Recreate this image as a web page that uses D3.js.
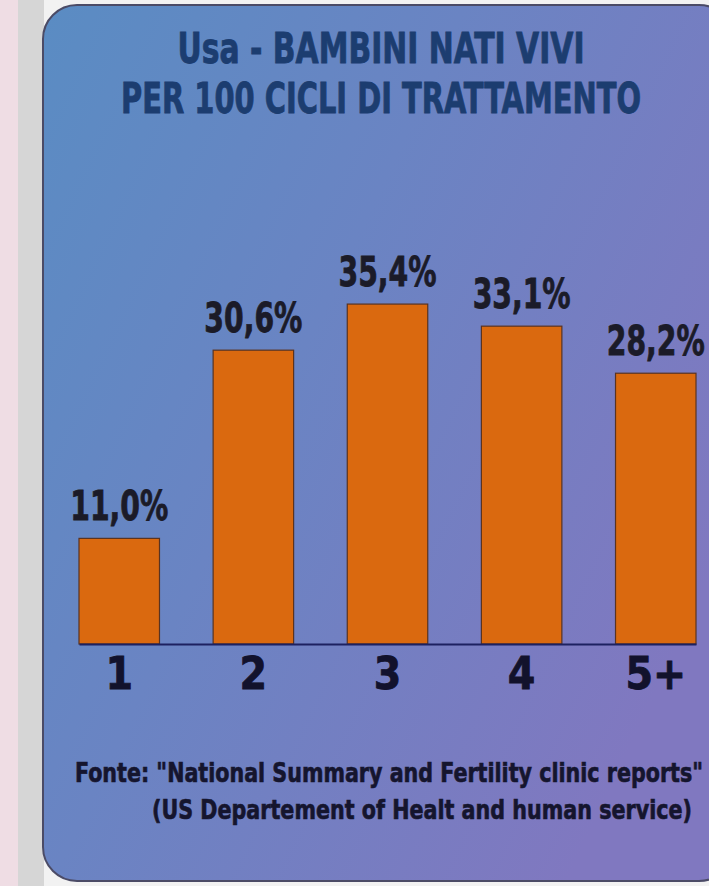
<!DOCTYPE html>
<html>
<head>
<meta charset="utf-8">
<script src="https://cdn.jsdelivr.net/npm/d3@7"></script>
<style>
  html, body { margin: 0; padding: 0; background: #f4f4f4; }
  svg { display: block; }
  .narrow { font-family: "DejaVu Sans Condensed", "Liberation Sans Narrow", sans-serif; font-weight: bold; }
</style>
</head>
<body>
<svg id="chart"></svg>
<script>
// data
const categories = ['1', '2', '3', '4', '5+']
const values = [11.0, 30.6, 35.4, 33.1, 28.2]
const valueLabels = ['11,0%', '30,6%', '35,4%', '33,1%', '28,2%']
const titleLines = ['Usa - BAMBINI NATI VIVI', 'PER 100 CICLI DI TRATTAMENTO']
const sourceLines = [
  'Fonte:  "National Summary and Fertility clinic reports"',
  '(US Departement of Healt and human service)'
]

const width = 709, height = 886
const baseY = 644

const svg = d3.select('#chart')
  .attr('width', width)
  .attr('height', height)

// page around the card: pink strip, grey strip
svg.append('rect').attr('width', width).attr('height', height).attr('fill', '#f2f2f2')
svg.append('rect').attr('width', 18).attr('height', height).attr('fill', '#efdde4')
svg.append('rect').attr('x', 18).attr('width', 26).attr('height', height).attr('fill', '#d6d6d6')

const defs = svg.append('defs')
const grad = defs.append('linearGradient')
  .attr('id', 'panelGrad')
  .attr('x1', '0%').attr('y1', '0%')
  .attr('x2', '100%').attr('y2', '60%')
grad.append('stop').attr('offset', '0%').attr('stop-color', '#5a8cc3')
grad.append('stop').attr('offset', '45%').attr('stop-color', '#6a84c3')
grad.append('stop').attr('offset', '100%').attr('stop-color', '#8078c0')

// card
svg.append('rect')
  .attr('x', 43).attr('y', 5)
  .attr('width', 690).attr('height', 876)
  .attr('rx', 34)
  .attr('fill', 'url(#panelGrad)')
  .attr('stroke', '#4b4b66')
  .attr('stroke-width', 2)

const g = svg.append('g')

// scales
const x = d3.scaleBand()
  .domain(categories)
  .range([79, 696])
  .paddingInner(0.4)
  .paddingOuter(0)

const y = d3.scaleLinear()
  .domain([0, 37.7])
  .range([baseY, baseY - 362])

// bars
g.selectAll('.bar')
  .data(values)
  .enter().append('rect')
  .attr('class', 'bar')
  .attr('x', (d, i) => x(categories[i]))
  .attr('y', d => y(d))
  .attr('width', x.bandwidth())
  .attr('height', d => y(0) - y(d))
  .attr('fill', '#da690f')
  .attr('stroke', '#5a3320')
  .attr('stroke-width', 1.2)

// value labels above bars
g.selectAll('.val')
  .data(values)
  .enter().append('text')
  .attr('class', 'val narrow')
  .attr('x', (d, i) => x(categories[i]) + x.bandwidth() / 2)
  .attr('y', d => y(d) - 18)
  .attr('text-anchor', 'middle')
  .attr('font-size', 41)
  .attr('fill', '#1b1b28')
  .attr('stroke', '#1b1b28')
  .attr('stroke-width', 0.8)
  .attr('textLength', 98)
  .attr('lengthAdjust', 'spacingAndGlyphs')
  .text((d, i) => valueLabels[i])

// x axis
const axis = g.append('g')
  .attr('transform', `translate(0,${baseY})`)
  .call(d3.axisBottom(x).tickSize(0).tickSizeOuter(0).tickPadding(14))
axis.select('.domain')
  .attr('stroke', '#1d2160')
  .attr('stroke-width', 2)
axis.selectAll('text')
  .attr('class', 'narrow')
  .attr('font-size', 44)
  .attr('fill', '#12122c')
  .attr('stroke', '#12122c')
  .attr('stroke-width', 0.8)

// title
svg.append('g')
  .selectAll('text')
  .data(titleLines)
  .enter().append('text')
  .attr('class', 'narrow')
  .attr('x', 381)
  .attr('y', (d, i) => 63 + i * 50)
  .attr('text-anchor', 'middle')
  .attr('font-size', 42)
  .attr('fill', '#1c3d70')
  .attr('stroke', '#1c3d70')
  .attr('stroke-width', 0.8)
  .attr('textLength', (d, i) => i === 0 ? 407 : 520)
  .attr('lengthAdjust', 'spacingAndGlyphs')
  .text(d => d)

// source note
svg.append('g')
  .selectAll('text')
  .data(sourceLines)
  .enter().append('text')
  .attr('class', 'narrow')
  .attr('x', (d, i) => i === 0 ? 75 : 152)
  .attr('y', (d, i) => 782 + i * 37)
  .attr('font-size', 26)
  .attr('fill', '#15152e')
  .attr('stroke', '#15152e')
  .attr('stroke-width', 0.6)
  .attr('textLength', (d, i) => i === 0 ? 628 : 540)
  .attr('lengthAdjust', 'spacingAndGlyphs')
  .text(d => d)
</script>
</body>
</html>
